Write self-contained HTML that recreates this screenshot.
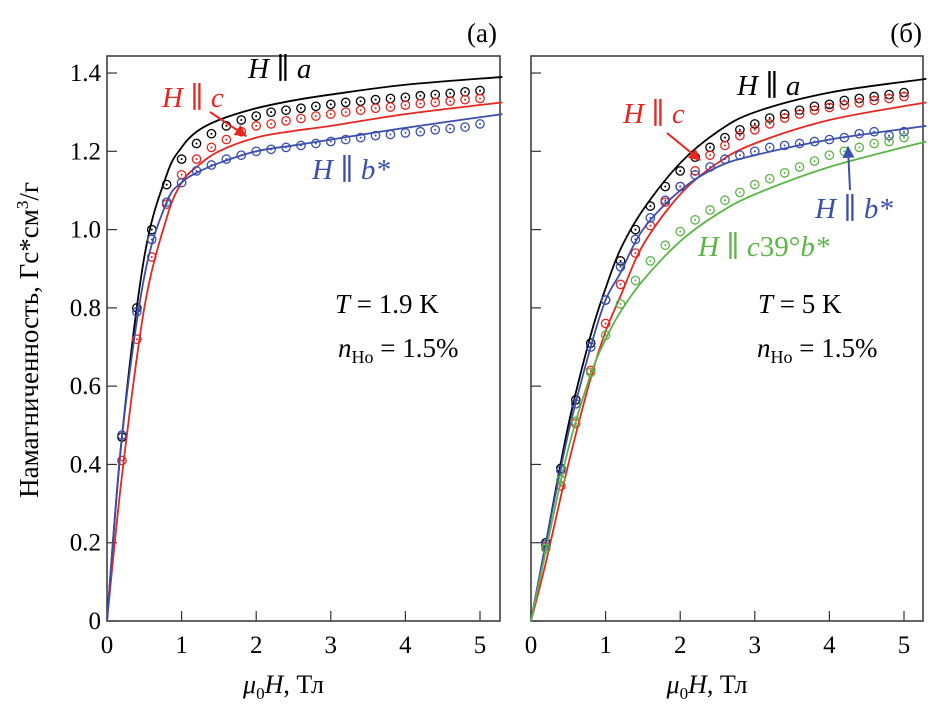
<!DOCTYPE html>
<html><head><meta charset="utf-8">
<style>
body{margin:0;background:#fff}
svg, svg text, svg tspan{font-family:"Liberation Serif","Times New Roman","DejaVu Serif",serif !important}
</style></head>
<body>
<svg id="chart" width="952" height="711" viewBox="0 0 952 711" xmlns="http://www.w3.org/2000/svg" style="position:absolute;left:0;top:0">
<g id="root"></g>
</svg>
<script>
const xTicks=[0,1,2,3,4,5];
const yTicks=[0,0.2,0.4,0.6,0.8,1.0,1.2,1.4];
const yTickLabels=["0","0.2","0.4","0.6","0.8","1.0","1.2","1.4"];
const dotFieldsA=[0.2,0.4,0.6,0.8,1.0,1.2,1.4,1.6,1.8,2.0,2.2,2.4,2.6,2.8,3.0,3.2,3.4,3.6,3.8,4.0,4.2,4.4,4.6,4.8,5.0];
const dotsA_a=[0.47,0.80,1.00,1.115,1.18,1.22,1.245,1.265,1.28,1.29,1.30,1.305,1.31,1.315,1.32,1.325,1.328,1.332,1.335,1.338,1.342,1.345,1.348,1.352,1.355];
const dotsA_c=[0.41,0.72,0.93,1.065,1.14,1.18,1.21,1.23,1.25,1.265,1.27,1.278,1.284,1.29,1.295,1.30,1.305,1.31,1.313,1.318,1.322,1.325,1.328,1.332,1.335];
const dotsA_b=[0.475,0.79,0.975,1.07,1.12,1.15,1.165,1.18,1.19,1.20,1.205,1.21,1.215,1.22,1.225,1.23,1.235,1.24,1.243,1.247,1.25,1.255,1.258,1.262,1.27];
const lineFields=[0,0.2,0.5,0.8,1.0,1.2,1.5,2.0,2.5,3.0,4.0,5.3];
const lineA_a=[0,0.47,0.93,1.14,1.21,1.25,1.28,1.31,1.33,1.345,1.37,1.39];
const lineA_c=[0,0.37,0.80,1.03,1.12,1.16,1.2,1.235,1.252,1.265,1.295,1.325];
const lineA_b=[0,0.47,0.88,1.07,1.12,1.145,1.17,1.2,1.215,1.23,1.26,1.295];
const dotsB_a=[0.2,0.39,0.565,0.71,0.82,0.92,1.0,1.06,1.11,1.15,1.185,1.21,1.235,1.255,1.27,1.285,1.295,1.305,1.315,1.32,1.33,1.335,1.34,1.345,1.35];
const dotsB_c=[0.19,0.345,0.505,0.64,0.76,0.86,0.94,1.01,1.07,1.11,1.15,1.19,1.215,1.24,1.255,1.27,1.285,1.295,1.305,1.312,1.318,1.324,1.33,1.335,1.34];
const dotsB_b=[0.195,0.385,0.555,0.70,0.82,0.905,0.975,1.03,1.075,1.11,1.14,1.16,1.18,1.19,1.20,1.21,1.215,1.22,1.225,1.23,1.235,1.245,1.25,1.24,1.25];
const dotsB_g=[0.185,0.36,0.51,0.635,0.73,0.81,0.87,0.92,0.96,0.995,1.025,1.05,1.075,1.095,1.115,1.13,1.145,1.16,1.175,1.19,1.2,1.21,1.22,1.225,1.235];
const lineB_a=[0,0.2,0.5,0.73,0.85,0.95,1.05,1.17,1.25,1.3,1.35,1.385];
const lineB_c=[0,0.15,0.40,0.62,0.74,0.83,0.96,1.09,1.17,1.22,1.28,1.325];
const lineB_b=[0,0.2,0.48,0.70,0.82,0.89,1.0,1.1,1.16,1.19,1.23,1.265];
const lineB_g=[0,0.18,0.44,0.63,0.72,0.79,0.87,0.97,1.04,1.09,1.16,1.225];

const NS="http://www.w3.org/2000/svg";
const root=document.getElementById('root');
function mk(tag,attrs,parent){const e=document.createElementNS(NS,tag);for(const k in attrs)e.setAttribute(k,attrs[k]);(parent||root).appendChild(e);return e;}
const Y0=621,YPU=391.4;
function yS(v){return Y0-v*YPU;}
const panels=[{x0:107,left:107,right:500,name:'a'},{x0:531,left:531,right:923,name:'b'}];
const XPU=74.6;
function smooth(pts){let d='M'+pts[0][0]+','+pts[0][1];for(let i=0;i<pts.length-1;i++){const p0=pts[i-1]||pts[i],p1=pts[i],p2=pts[i+1],p3=pts[i+2]||p2;const c1=[p1[0]+(p2[0]-p0[0])/6,p1[1]+(p2[1]-p0[1])/6],c2=[p2[0]-(p3[0]-p1[0])/6,p2[1]-(p3[1]-p1[1])/6];d+=' C'+c1[0]+','+c1[1]+' '+c2[0]+','+c2[1]+' '+p2[0]+','+p2[1];}return d;}
function drawPanel(p,series){
  const xS=v=>p.x0+v*XPU;
  const g=mk('g',{});
  
  
  const fr=mk('rect',{x:p.left,y:56,width:p.right-p.left,height:Y0-56,fill:'none',stroke:'#333','stroke-width':1.5},g);
  
  
  xTicks.forEach(t=>{
    const tk=mk('line',{x1:xS(t),x2:xS(t),y1:Y0,y2:Y0-10,stroke:'#333','stroke-width':1.2},g);
    
    
    const tx=mk('text',{x:xS(t),y:Y0+32,'text-anchor':'middle','font-size':25},g);
    tx.textContent=t;
    
    
  });
  yTicks.forEach((t,i)=>{
    const tk=mk('line',{x1:p.left,x2:p.left+10,y1:yS(t),y2:yS(t),stroke:'#333','stroke-width':1.2},g);
    
    
    if(p.name==='a'){
      const tx=mk('text',{x:p.left-6,y:yS(t)+8,'text-anchor':'end','font-size':25},g);
      tx.textContent=yTickLabels[i];
      
      
    }
  });
  series.forEach(s=>{
    const pts=lineFields.map((f,i)=>[xS(f),yS(s.line[i])]);
    const ln=mk('path',{d:smooth(pts),fill:'none',stroke:s.color,'stroke-width':1.8},g);
    
    
    s.dots.forEach((v,i)=>{
      const c=mk('circle',{cx:xS(dotFieldsA[i]),cy:yS(v),r:4.2,fill:'none',stroke:s.color,'stroke-width':1.3},g);
      
      
      const c2=mk('circle',{cx:xS(dotFieldsA[i]),cy:yS(v),r:1,fill:s.color},g);
      
      
    });
  });
  const xt=mk('text',{x:(p.left+p.right)/2-20,y:693,'text-anchor':'middle','font-size':26},g);
  xt.innerHTML='<tspan font-style="italic">μ</tspan><tspan font-size="17" dy="6">0</tspan><tspan font-style="italic" dy="-6">H</tspan>, Тл';
  
  
}
const BL='#000',RD='#e8251f',BU='#3a4fae',GR='#5cb547';
drawPanel(panels[0],[{key:'a',color:BL,line:lineA_a,dots:dotsA_a},{key:'c',color:RD,line:lineA_c,dots:dotsA_c},{key:'b',color:BU,line:lineA_b,dots:dotsA_b}]);
drawPanel(panels[1],[{key:'a',color:BL,line:lineB_a,dots:dotsB_a},{key:'c',color:RD,line:lineB_c,dots:dotsB_c},{key:'b',color:BU,line:lineB_b,dots:dotsB_b},{key:'g',color:GR,line:lineB_g,dots:dotsB_g}]);
</script>
<svg width="952" height="711" style="position:absolute;left:0;top:0" xmlns="http://www.w3.org/2000/svg">
<defs>
<marker id="ar" viewBox="0 0 10 10" refX="9" refY="5" markerWidth="6" markerHeight="6" orient="auto"><path d="M0,0L10,5L0,10z" fill="#e8251f"/></marker>
<marker id="ab" viewBox="0 0 10 10" refX="9" refY="5" markerWidth="6" markerHeight="6" orient="auto"><path d="M0,0L10,5L0,10z" fill="#3a4fae"/></marker>
</defs>
<text x="38" y="340" transform="rotate(-90 38 340)" text-anchor="middle" font-size="27">Намагниченность, Гс*см<tspan font-size="17" dy="-10">3</tspan><tspan dy="10">/г</tspan></text>
<text x="497" y="42" text-anchor="end" font-size="27">(a)</text>
<text x="922" y="42" text-anchor="end" font-size="27">(б)</text>
<text x="248" y="78" font-size="29"><tspan font-style="italic">H</tspan> ∥ <tspan font-style="italic">a</tspan></text>
<text x="162" y="107" font-size="29" fill="#e8251f"><tspan font-style="italic">H</tspan> ∥ <tspan font-style="italic">c</tspan></text>
<line x1="210" y1="112" x2="246" y2="136" stroke="#e8251f" stroke-width="2" marker-end="url(#ar)"/>
<text x="312" y="179" font-size="29" fill="#3a4fae"><tspan font-style="italic">H</tspan> ∥ <tspan font-style="italic">b*</tspan></text>
<text x="335" y="313" font-size="27"><tspan font-style="italic">T</tspan> = 1.9 K</text>
<text x="338" y="357" font-size="27"><tspan font-style="italic">n</tspan><tspan font-size="18" dy="6">Ho</tspan><tspan dy="-6"> = 1.5%</tspan></text>
<text x="737" y="95" font-size="29"><tspan font-style="italic">H</tspan> ∥ <tspan font-style="italic">a</tspan></text>
<text x="623" y="123" font-size="29" fill="#e8251f"><tspan font-style="italic">H</tspan> ∥ <tspan font-style="italic">c</tspan></text>
<line x1="667" y1="133" x2="700" y2="160" stroke="#e8251f" stroke-width="2" marker-end="url(#ar)"/>
<text x="815" y="218" font-size="29" fill="#3a4fae"><tspan font-style="italic">H</tspan> ∥ <tspan font-style="italic">b*</tspan></text>
<line x1="850" y1="190" x2="848" y2="147" stroke="#3a4fae" stroke-width="2" marker-end="url(#ab)"/>
<text x="698" y="256" font-size="29" fill="#5cb547"><tspan font-style="italic">H</tspan> ∥ <tspan font-style="italic">c</tspan>39°<tspan font-style="italic">b*</tspan></text>
<text x="758" y="313" font-size="27"><tspan font-style="italic">T</tspan> = 5 K</text>
<text x="757" y="357" font-size="27"><tspan font-style="italic">n</tspan><tspan font-size="18" dy="6">Ho</tspan><tspan dy="-6"> = 1.5%</tspan></text>
</svg>
</body></html>
